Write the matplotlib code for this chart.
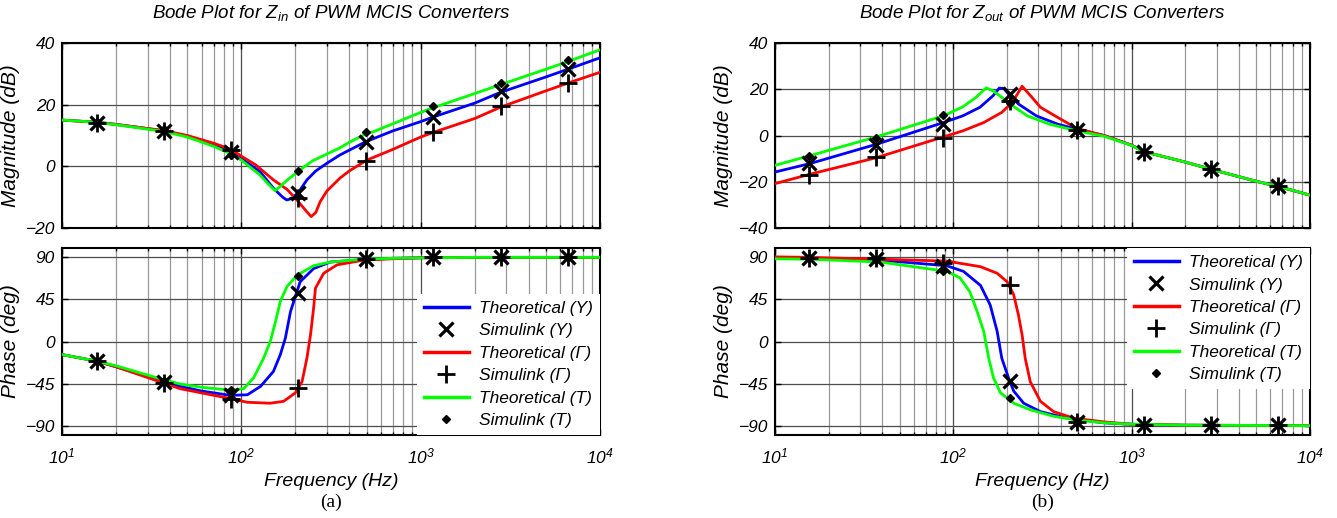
import matplotlib
matplotlib.use("Agg")
import matplotlib.pyplot as plt
from matplotlib.ticker import FixedLocator, FixedFormatter, LogLocator, NullFormatter

# ---------------- data ----------------
sim_freq = [15.6, 37, 88, 208, 495, 1175, 2790, 6630]

# Zin magnitude (dB)
zin_mag_Y_f = [10, 15.6, 20, 37, 50, 70, 88, 100, 127, 151, 170, 179, 190, 208, 232, 260, 300, 355, 495, 700, 1000, 1175, 2000, 2790, 5000, 6630, 10000]
zin_mag_Y_v = [15, 14.3, 13.6, 11.5, 9.8, 7, 4.5, 2.5, -1.7, -7.1, -10, -10.9, -10.5, -8.5, -4.4, -1.5, 1, 3.7, 8, 11.5, 14.5, 16, 20.5, 24, 29, 31.5, 35.2]
zin_mag_G_f = [10, 15.6, 20, 37, 50, 70, 88, 100, 120, 151, 180, 204, 230, 245, 260, 275, 300, 355, 400, 500, 700, 1000, 1175, 2000, 2790, 5000, 6630, 10000]
zin_mag_G_v = [15, 14.3, 13.6, 11.6, 10, 7.5, 5.5, 3.3, 0.5, -4.4, -7.5, -10.9, -14.5, -16.3, -15, -11.5, -8, -3.8, -1.5, 2, 5.5, 9.5, 11, 15.5, 19.2, 24.5, 27, 30.5]
zin_mag_T_f = [10, 15.6, 20, 37, 50, 70, 88, 100, 127, 140, 154, 165, 180, 212, 250, 300, 355, 400, 495, 543, 700, 1000, 1175, 2000, 2790, 5000, 6630, 10000]
zin_mag_T_v = [15, 14.3, 13.5, 11.3, 9.5, 6.5, 4, 2, -2.8, -5.5, -7.9, -6.5, -4.5, -1.2, 1.8, 4, 6, 7.8, 10.5, 11.2, 13.8, 17.5, 19, 23.6, 26.5, 31.5, 34, 37.8]

zin_mag_sim_Y = [14, 11.5, 4.8, -8.8, 8, 16, 24.5, 31.5]
zin_mag_sim_G = [14, 11.5, 5.3, -10.4, 1.8, 11, 19.5, 27]
zin_mag_sim_T = [14.5, 12, 3.7, -1.4, 11.2, 19.5, 27, 34.5]

# Zin phase (deg)
zin_ph_Y_f = [10, 15.6, 20, 37, 45.7, 60, 87, 108, 128, 151, 165, 176, 188, 200, 213, 253, 314, 481, 700, 1000, 2000, 10000]
zin_ph_Y_v = [-14, -21, -27, -43, -48, -53, -57.6, -57, -48, -32, -14, 3.6, 32, 48, 64, 78, 85, 87.5, 89, 89.5, 90, 90]
zin_ph_G_f = [10, 15.6, 20, 37, 45.7, 60, 87, 108, 145, 172, 200, 218, 232, 243, 253, 259, 288, 342, 481, 700, 1000, 2000, 10000]
zin_ph_G_v = [-14, -21, -27, -44.5, -50.5, -55, -61, -65, -66, -64, -55, -43, -18, 7, 36, 57, 73, 82, 87, 88.5, 89.5, 90, 90]
zin_ph_T_f = [10, 15.6, 20, 37, 45.7, 60, 87, 103, 117, 133, 145, 155, 165, 180, 205, 253, 314, 481, 700, 1000, 2000, 10000]
zin_ph_T_v = [-14, -21, -26, -41, -45.5, -49, -52, -50.5, -39, -18, 0, 21, 43, 59, 71, 81, 85, 88, 89, 89.5, 90, 90]

zin_ph_sim_Y = [-21, -43, -57, 52, 88, 90, 90, 90]
zin_ph_sim_G = [-21, -44, -61, -50, 88, 90, 90, 90]
zin_ph_sim_T = [-21, -42, -52, 70, 88, 90, 90, 90]

# Zout magnitude (dB)
zout_mag_Y_f = [10, 15.6, 37, 88, 113, 141, 167, 181, 192, 208, 232, 292, 385, 495, 700, 1000, 1170, 2000, 2780, 5000, 6700, 10000]
zout_mag_Y_v = [-15.8, -12.2, -3.8, 5.6, 8.5, 12.2, 17.2, 20.5, 20.3, 17.2, 13.6, 8.5, 4.9, 2.7, 0, -4.2, -7, -11.5, -14.6, -19.8, -22.1, -25.8]
zout_mag_G_f = [10, 15.6, 37, 88, 113, 148, 187, 214, 232, 243, 276, 308, 385, 495, 700, 1000, 1170, 2000, 2780, 5000, 6700, 10000]
zout_mag_G_v = [-20.8, -16.8, -9.6, -0.6, 2, 5.6, 10, 14.3, 18.7, 21.3, 16.5, 12.2, 7.8, 3, 0, -4.2, -7, -11.5, -14.6, -19.8, -22.1, -25.8]
zout_mag_T_f = [10, 15.6, 37, 88, 113, 134, 153, 167, 187, 208, 260, 346, 495, 700, 1000, 1170, 2000, 2780, 5000, 6700, 10000]
zout_mag_T_v = [-12.9, -8.8, -0.6, 8.5, 12.4, 16.5, 20.6, 19.3, 16.5, 13.6, 8.5, 4.9, 2.0, -0.3, -4.3, -7, -11.5, -14.6, -19.8, -22.1, -25.8]

zout_mag_sim_Y = [-12, -4, 5, 18, 2.5, -7, -14.5, -22]
zout_mag_sim_G = [-17, -9.5, -1, 15, 2.5, -7, -14.5, -22]
zout_mag_sim_T = [-9, -1, 9, 14, 2, -7, -14.5, -22]

# Zout phase (deg)
zout_ph_Y_f = [10, 15.6, 39, 92, 114, 142, 161, 176, 187, 204, 218, 248, 308, 434, 700, 1000, 2000, 10000]
zout_ph_Y_v = [89.5, 89, 87, 81, 75, 60, 39, 11, -18, -39, -53, -66, -75, -82, -87, -88.5, -89.5, -90]
zout_ph_G_f = [10, 15.6, 39, 92, 142, 176, 200, 218, 232, 243, 253, 270, 308, 365, 473, 700, 1000, 2000, 10000]
zout_ph_G_v = [90.5, 90, 88, 86, 80, 73, 64, 50, 28, 7, -18, -43, -64, -75, -82, -86, -88.5, -89.5, -90]
zout_ph_T_f = [10, 15.6, 39, 92, 109, 124, 136, 148, 158, 168, 184, 218, 270, 365, 494, 700, 1000, 2000, 10000]
zout_ph_T_v = [88.5, 88, 85, 75, 68, 53, 32, 11, -18, -39, -55, -66, -73, -80, -84, -87, -88.5, -89.5, -90]

zout_ph_sim_Y = [89, 88, 81, -42, -86, -89, -89, -89]
zout_ph_sim_G = [89, 89, 84, 60, -86, -89, -89, -89]
zout_ph_sim_T = [89, 87, 75, -60, -86, -89, -89, -89]

mag_ticks_in = [-20, 0, 20, 40]
mag_ticks_out = [-40, -20, 0, 20, 40]
phase_ticks = [-90, -45, 0, 45, 90]
x_ticks = [10, 100, 1000, 10000]
x_labels = [r'$10^{1}$', r'$10^{2}$', r'$10^{3}$', r'$10^{4}$']
titles = [r'Bode Plot for Z$_{in}$ of PWM MCIS Converters',
          r'Bode Plot for Z$_{out}$ of PWM MCIS Converters']
legend_labels = ['Theoretical (Y)', 'Simulink (Y)', 'Theoretical (Γ)',
                 'Simulink (Γ)', 'Theoretical (T)', 'Simulink (T)']
panel_labels = ['(a)', '(b)']

# ---------------- style ----------------
plt.rcParams['font.family'] = ['Liberation Sans', 'DejaVu Sans']
plt.rcParams['font.style'] = 'italic'
plt.rcParams['mathtext.fontset'] = 'custom'
plt.rcParams['mathtext.rm'] = 'Liberation Sans:italic'
plt.rcParams['mathtext.it'] = 'Liberation Sans:italic'

BLUE, RED, GREEN = '#0000ff', '#ff0000', '#00ff00'
W, H = 1337, 518
fig = plt.figure(figsize=(W / 100, H / 100), dpi=100)


def rect(x0, y0, x1, y1):
    return [x0 / W, 1 - y1 / H, (x1 - x0) / W, (y1 - y0) / H]


def style_axes(ax, yticks, ylim, show_xlabels):
    ax.set_xscale('log')
    ax.set_xlim(10, 10000)
    ax.set_ylim(*ylim)
    ax.yaxis.set_major_locator(FixedLocator(yticks))
    ax.xaxis.set_major_locator(FixedLocator(x_ticks))
    ax.xaxis.set_minor_locator(LogLocator(base=10, subs=range(2, 10)))
    ax.xaxis.set_minor_formatter(NullFormatter())
    if show_xlabels:
        ax.xaxis.set_major_formatter(FixedFormatter(x_labels))
    else:
        ax.xaxis.set_major_formatter(NullFormatter())
    ax.grid(True, which='major', axis='both', color='0.3', lw=0.9)
    ax.grid(True, which='minor', axis='x', color='0.6', lw=0.9)
    ax.set_axisbelow(True)
    ax.tick_params(which='both', direction='in', top=True, right=True,
                   labelsize=12.5, width=1)
    ax.tick_params(which='major', length=4, pad=5)
    ax.tick_params(axis='x', which='major', pad=8)
    ax.tick_params(which='minor', length=2.5)
    for s in ax.spines.values():
        s.set_linewidth(1.5)


def draw(ax, curves, sims):
    for (f, v), c in zip(curves, [BLUE, RED, GREEN]):
        ax.plot(f, v, color=c, lw=2, zorder=3)
    ax.plot(sim_freq, sims[0], ls='none', marker='x', ms=10, mew=2.3, color='k', zorder=4)
    ax.plot(sim_freq, sims[1], ls='none', marker='+', ms=13, mew=2.0, color='k', zorder=4)
    ax.plot(sim_freq, sims[2], ls='none', marker='D', ms=4.5, color='k', zorder=4)


def add_legend(ax, anchor, loc):
    h = [plt.Line2D([], [], color=BLUE, lw=2.5),
         plt.Line2D([], [], ls='none', marker='x', ms=10, mew=2.3, color='k'),
         plt.Line2D([], [], color=RED, lw=2.5),
         plt.Line2D([], [], ls='none', marker='+', ms=13, mew=2.0, color='k'),
         plt.Line2D([], [], color=GREEN, lw=2.5),
         plt.Line2D([], [], ls='none', marker='D', ms=4.5, color='k')]
    leg = ax.legend(h, legend_labels, loc=loc, bbox_to_anchor=anchor,
                    fontsize=12.5, handlelength=2.6, labelspacing=0.42,
                    borderaxespad=0.0, borderpad=0.4, handletextpad=0.6,
                    fancybox=False, framealpha=1, edgecolor='none')
    leg.set_zorder(10)


panels = [
    dict(x0=62, x1=600, magticks=mag_ticks_in, maglim=(-20, 40),
         mag=[(zin_mag_Y_f, zin_mag_Y_v), (zin_mag_G_f, zin_mag_G_v), (zin_mag_T_f, zin_mag_T_v)],
         magsim=[zin_mag_sim_Y, zin_mag_sim_G, zin_mag_sim_T],
         ph=[(zin_ph_Y_f, zin_ph_Y_v), (zin_ph_G_f, zin_ph_G_v), (zin_ph_T_f, zin_ph_T_v)],
         phsim=[zin_ph_sim_Y, zin_ph_sim_G, zin_ph_sim_T],
         leg_anchor=(1.0, 0.0), leg_loc='lower right'),
    dict(x0=775, x1=1310, magticks=mag_ticks_out, maglim=(-40, 40),
         mag=[(zout_mag_Y_f, zout_mag_Y_v), (zout_mag_G_f, zout_mag_G_v), (zout_mag_T_f, zout_mag_T_v)],
         magsim=[zout_mag_sim_Y, zout_mag_sim_G, zout_mag_sim_T],
         ph=[(zout_ph_Y_f, zout_ph_Y_v), (zout_ph_G_f, zout_ph_G_v), (zout_ph_T_f, zout_ph_T_v)],
         phsim=[zout_ph_sim_Y, zout_ph_sim_G, zout_ph_sim_T],
         leg_anchor=(1.0, 1.0), leg_loc='upper right'),
]

for i, p in enumerate(panels):
    axm = fig.add_axes(rect(p['x0'], 43, p['x1'], 228))
    axp = fig.add_axes(rect(p['x0'], 248, p['x1'], 435))
    style_axes(axm, p['magticks'], p['maglim'], False)
    style_axes(axp, phase_ticks, (-100, 100), True)
    draw(axm, p['mag'], p['magsim'])
    draw(axp, p['ph'], p['phsim'])
    axm.set_ylabel('Magnitude (dB)', fontsize=15, labelpad=4)
    axp.set_ylabel('Phase (deg)', fontsize=15, labelpad=4)
    axp.set_xlabel('Frequency (Hz)', fontsize=14, labelpad=5)
    axm.set_title(titles[i], fontsize=13.5, pad=18)
    add_legend(axp, p['leg_anchor'], p['leg_loc'])
    fig.text((p['x0'] + p['x1']) / 2 / W, 1 - 502 / H, panel_labels[i],
             ha='center', va='center', fontsize=14, family='Liberation Serif',
             style='normal')

fig.savefig('out.png', dpi=100)
